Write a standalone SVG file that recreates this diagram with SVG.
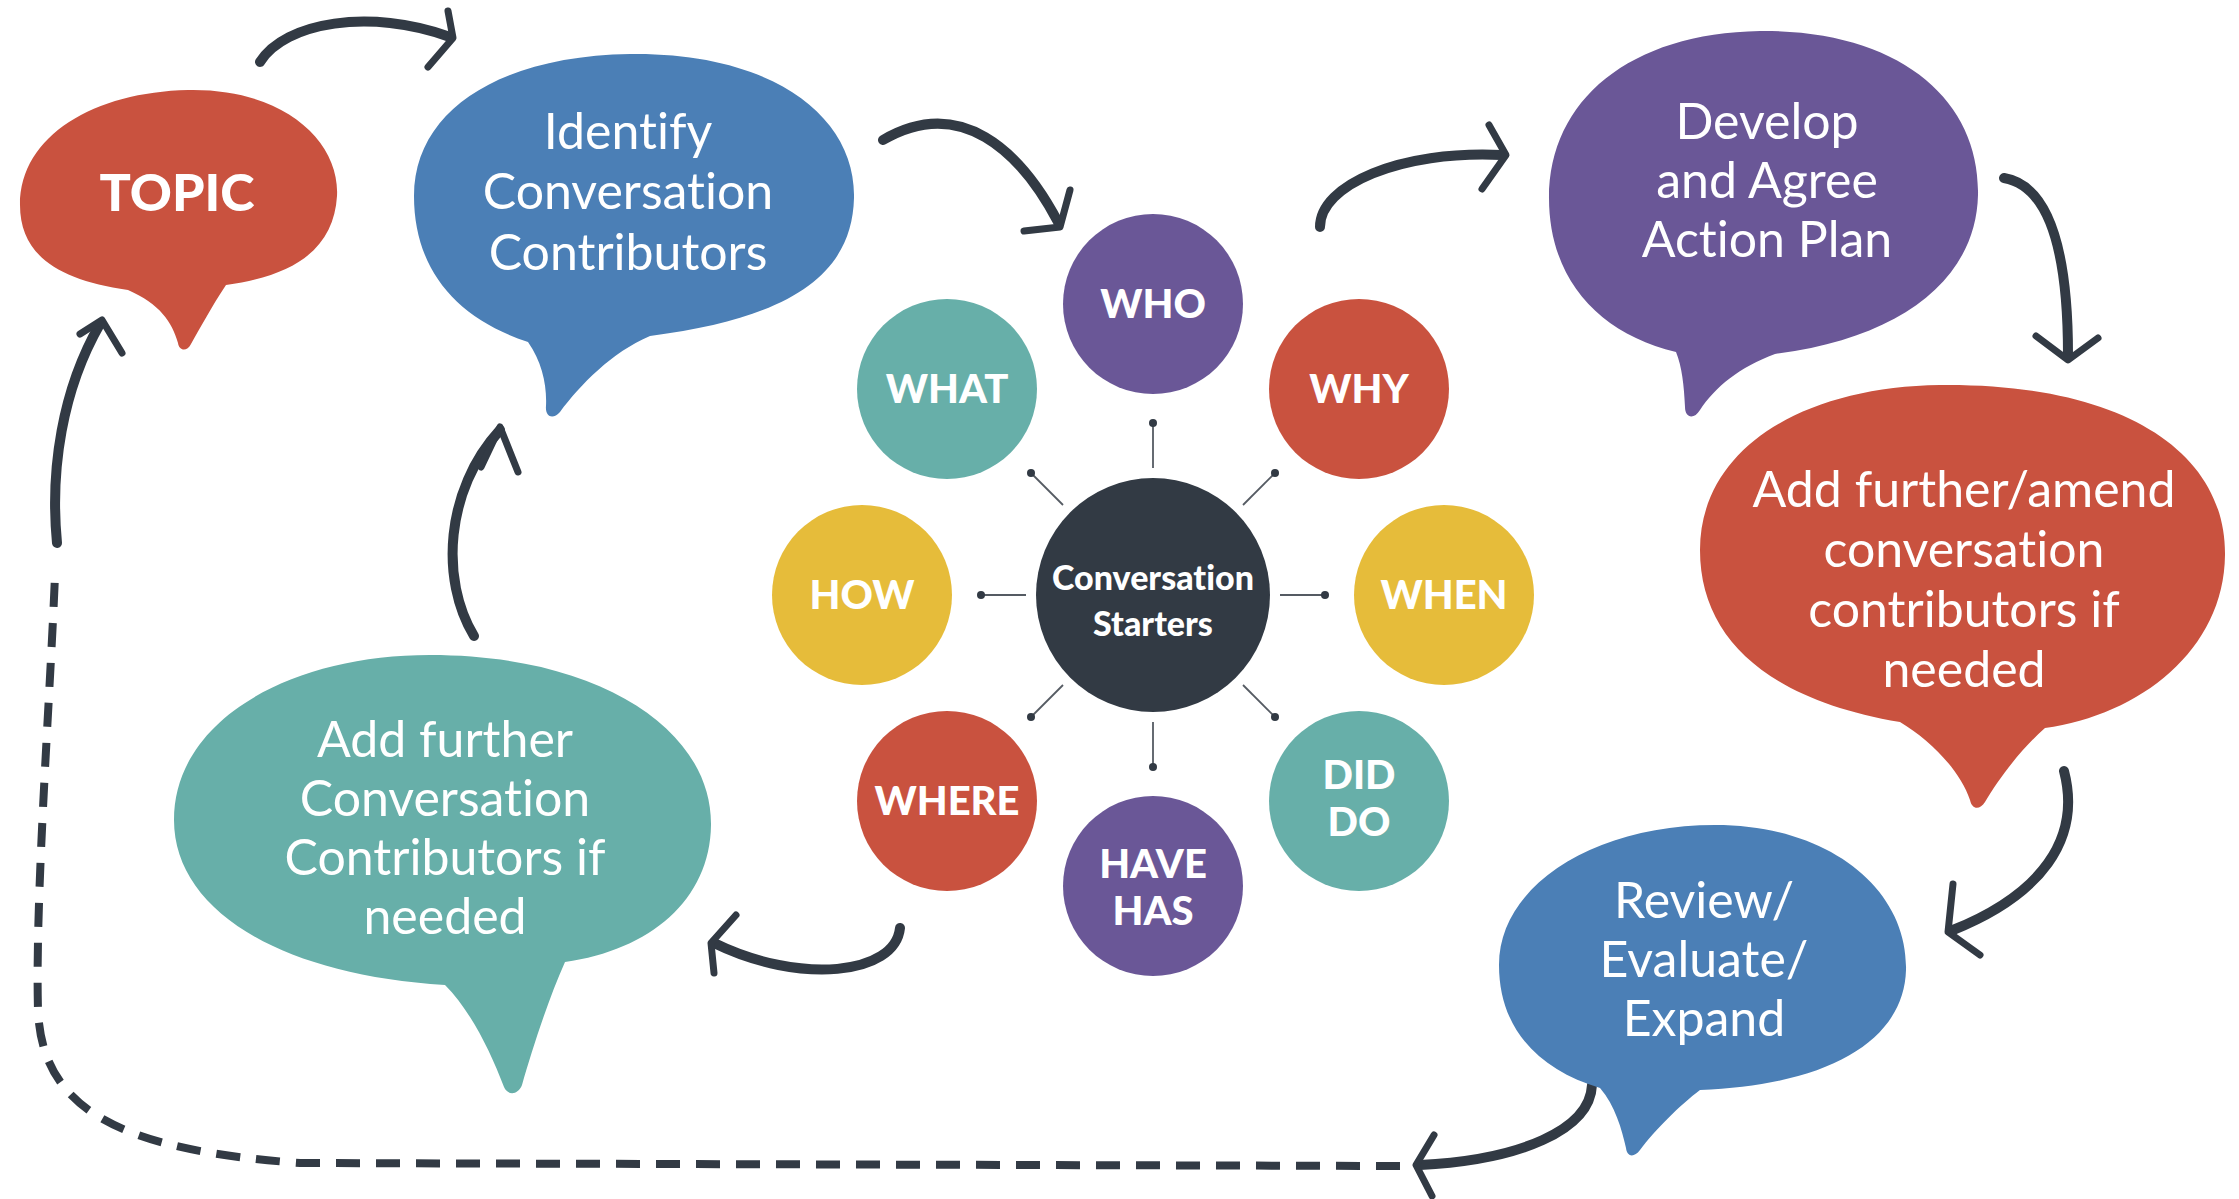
<svg xmlns="http://www.w3.org/2000/svg" width="2239" height="1199" viewBox="0 0 2239 1199">
  <defs>
    <style>
      .red { fill: #C9523F; }
      .blue { fill: #4B7FB6; }
      .purple { fill: #6A5797; }
      .teal { fill: #67AFA9; }
      .yellow { fill: #E6BC3A; }
      .dark { fill: #323A44; }
      text { font-variant-ligatures: none; font-feature-settings: "liga" 0, "clig" 0; }
      .body { font-family: Lato, "Liberation Sans", sans-serif; font-size: 50px; fill: #FFFFFF; text-anchor: middle; }
      .label { font-family: Lato, "Liberation Sans", sans-serif; font-weight: 900; font-size: 40px; fill: #FFFFFF; text-anchor: middle; }
      .hub { font-family: Lato, "Liberation Sans", sans-serif; font-weight: 900; font-size: 34px; fill: #FFFFFF; text-anchor: middle; }
      .shaft { fill: none; stroke: #323A44; stroke-width: 10; stroke-linecap: round; }
      .head { fill: none; stroke: #323A44; stroke-width: 7; stroke-linecap: round; stroke-linejoin: round; }
      .dash { fill: none; stroke: #323A44; stroke-width: 8; stroke-dasharray: 24 16; }
      .spoke { stroke: #555B63; stroke-width: 1.8; }
      .dot { fill: #323A44; }
    </style>
  </defs>

  <rect width="2239" height="1199" fill="#FFFFFF"/>

  <!-- connectors -->
  <g id="connectors">
    <!-- topic to identify -->
    <path class="shaft" d="M260,62 C285,22 370,8 450,37"/>
    <polyline class="head" points="448,11 453,38 428,67"/>
    <!-- identify to starters -->
    <path class="shaft" d="M883,140 C960,95 1020,150 1058,222"/>
    <polyline class="head" points="1070,190 1060,227 1024,231"/>
    <!-- starters to action plan -->
    <path class="shaft" d="M1320,227 C1320,185 1400,150 1502,155"/>
    <polyline class="head" points="1489,125 1506,155 1482,189"/>
    <!-- action plan to amend -->
    <path class="shaft" d="M2004,178 C2045,185 2068,240 2068,355"/>
    <polyline class="head" points="2036,336 2068,360 2098,338"/>
    <!-- amend to review -->
    <path class="shaft" d="M2064,771 C2082,840 2040,895 1953,930"/>
    <polyline class="head" points="1953,884 1948,932 1980,955"/>
    <!-- review back to topic (dashed return) -->
    <path class="shaft" d="M1592,1085 C1590,1130 1520,1160 1420,1165"/>
    <polyline class="head" points="1434,1135 1416,1165 1432,1196"/>
    <path class="dash" d="M1400,1166 L300,1163 C120,1150 42,1110 38,1010 C35,900 50,700 55,575"/>
    <path class="shaft" d="M57,543 C50,470 62,390 100,324"/>
    <polyline class="head" points="80,334 102,320 122,353"/>
    <!-- starters to add further -->
    <path class="shaft" d="M900,928 C895,975 800,985 714,943"/>
    <polyline class="head" points="736,915 711,943 714,973"/>
    <!-- add further to identify -->
    <path class="shaft" d="M474,636 C440,580 445,490 500,430"/>
    <polyline class="head" points="481,467 500,427 518,472"/>
    <!-- hub spokes -->
    <g id="spokes">
      <line class="spoke" x1="1280" y1="595" x2="1325" y2="595"/>
      <line class="spoke" x1="1026" y1="595" x2="981" y2="595"/>
      <line class="spoke" x1="1153" y1="722" x2="1153" y2="767"/>
      <line class="spoke" x1="1153" y1="468" x2="1153" y2="423"/>
      <line class="spoke" x1="1243" y1="505" x2="1275" y2="473"/>
      <line class="spoke" x1="1063" y1="505" x2="1031" y2="473"/>
      <line class="spoke" x1="1243" y1="685" x2="1275" y2="717"/>
      <line class="spoke" x1="1063" y1="685" x2="1031" y2="717"/>
      <circle class="dot" cx="1325" cy="595" r="4"/>
      <circle class="dot" cx="981" cy="595" r="4"/>
      <circle class="dot" cx="1153" cy="767" r="4"/>
      <circle class="dot" cx="1153" cy="423" r="4"/>
      <circle class="dot" cx="1275" cy="473" r="4"/>
      <circle class="dot" cx="1031" cy="473" r="4"/>
      <circle class="dot" cx="1275" cy="717" r="4"/>
      <circle class="dot" cx="1031" cy="717" r="4"/>
    </g>
  </g>

  <!-- speech bubbles -->
  <g id="topic">
    <path class="red" d="M188,90 C282,88 340,140 337,196 C334,245 300,275 226,285 C212,306 199,330 191,344 C187,352 179,351 178,343 C172,322 160,304 128,290 C58,280 20,255 20,205 C20,135 95,92 188,90 Z"/>
    <text class="label" x="177" y="211" style="font-size:52px">TOPIC</text>
  </g>

  <g id="identify">
    <path class="blue" d="M630,54 C770,52 856,115 854,198 C852,275 790,318 650,336 C612,352 580,385 560,412 C553,420 545,417 546,406 C547,385 542,362 528,342 C455,318 414,268 414,196 C414,110 500,56 630,54 Z"/>
    <text class="body" x="628" y="149">Identify</text>
    <text class="body" x="628" y="209">Conversation</text>
    <text class="body" x="628" y="270">Contributors</text>
  </g>

  <g id="action-plan">
    <path class="purple" d="M1760,31 C1900,30 1980,100 1978,195 C1976,280 1900,338 1775,354 C1740,367 1715,387 1700,410 C1694,420 1685,418 1685,407 C1684,385 1682,367 1676,352 C1600,334 1549,280 1549,198 C1549,100 1630,33 1760,31 Z"/>
    <text class="body" x="1767" y="139">Develop</text>
    <text class="body" x="1767" y="198">and Agree</text>
    <text class="body" x="1767" y="257">Action Plan</text>
  </g>

  <g id="amend">
    <path class="red" d="M1940,385 C2120,383 2226,450 2225,555 C2224,650 2140,715 2045,728 C2020,750 1998,780 1985,802 C1980,810 1972,810 1970,800 C1960,770 1930,740 1900,722 C1770,700 1700,640 1700,550 C1700,450 1800,387 1940,385 Z"/>
    <text class="body" x="1964" y="507">Add further/amend</text>
    <text class="body" x="1964" y="567">conversation</text>
    <text class="body" x="1964" y="627">contributors if</text>
    <text class="body" x="1964" y="687">needed</text>
  </g>

  <g id="review">
    <path class="blue" d="M1715,825 C1830,825 1908,890 1906,970 C1904,1040 1830,1085 1700,1090 C1680,1105 1655,1130 1640,1150 C1634,1158 1627,1157 1626,1148 C1622,1130 1615,1105 1600,1088 C1540,1070 1499,1030 1499,965 C1499,885 1595,825 1715,825 Z"/>
    <text class="body" x="1704" y="918">Review/</text>
    <text class="body" x="1704" y="977">Evaluate/</text>
    <text class="body" x="1704" y="1036">Expand</text>
  </g>

  <g id="add-further">
    <path class="teal" d="M430,655 C600,655 712,730 711,825 C710,900 650,950 565,962 C548,1000 532,1050 522,1085 C518,1095 508,1096 504,1087 C490,1050 470,1010 445,985 C280,975 174,910 174,820 C174,720 290,655 430,655 Z"/>
    <text class="body" x="445" y="757">Add further</text>
    <text class="body" x="445" y="816">Conversation</text>
    <text class="body" x="445" y="875">Contributors if</text>
    <text class="body" x="445" y="934">needed</text>
  </g>

  <!-- conversation starters hub -->
  <g id="starters">
    <circle class="dark" cx="1153" cy="595" r="117"/>
    <text class="hub" x="1153" y="590">Conversation</text>
    <text class="hub" x="1153" y="636">Starters</text>
  </g>

  <g id="who">
    <circle class="purple" cx="1153" cy="304" r="90"/>
    <text class="label" x="1153" y="318">WHO</text>
  </g>
  <g id="why">
    <circle class="red" cx="1359" cy="389" r="90"/>
    <text class="label" x="1359" y="403">WHY</text>
  </g>
  <g id="when">
    <circle class="yellow" cx="1444" cy="595" r="90"/>
    <text class="label" x="1444" y="609">WHEN</text>
  </g>
  <g id="did-do">
    <circle class="teal" cx="1359" cy="801" r="90"/>
    <text class="label" x="1359" y="789">DID</text>
    <text class="label" x="1359" y="836">DO</text>
  </g>
  <g id="have-has">
    <circle class="purple" cx="1153" cy="886" r="90"/>
    <text class="label" x="1153" y="878">HAVE</text>
    <text class="label" x="1153" y="925">HAS</text>
  </g>
  <g id="where">
    <circle class="red" cx="947" cy="801" r="90"/>
    <text class="label" x="947" y="815">WHERE</text>
  </g>
  <g id="how">
    <circle class="yellow" cx="862" cy="595" r="90"/>
    <text class="label" x="862" y="609">HOW</text>
  </g>
  <g id="what">
    <circle class="teal" cx="947" cy="389" r="90"/>
    <text class="label" x="947" y="403">WHAT</text>
  </g>
</svg>
